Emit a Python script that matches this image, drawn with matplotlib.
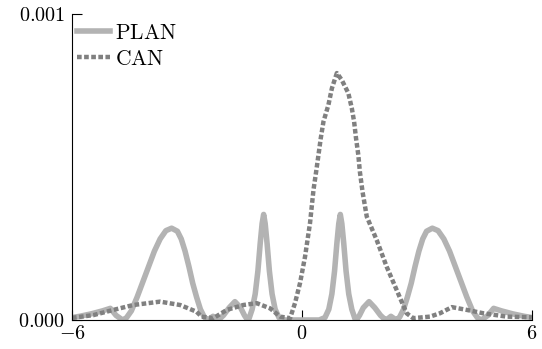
import matplotlib
matplotlib.use("Agg")
import numpy as np
import matplotlib.pyplot as plt

plt.rcParams["mathtext.fontset"] = "cm"

# PLAN curve (x, value)
plan_x = [-6.0, -5.8, -5.5, -5.2, -5.0, -4.85, -4.68, -4.58, -4.45, -4.3, -4.15, -4.0,
          -3.85, -3.7, -3.55, -3.4, -3.25, -3.15, -3.05, -2.95, -2.85, -2.75, -2.65, -2.55,
          -2.47, -2.4, -2.32, -2.25, -2.18, -2.05, -1.9, -1.75, -1.6, -1.5, -1.42, -1.38,
          -1.3, -1.22, -1.15, -1.09, -1.04, -1.0, -0.96, -0.91, -0.85, -0.78, -0.7, -0.6,
          -0.45, 0.0,
          0.45, 0.6, 0.7, 0.78, 0.85, 0.91, 0.96, 1.0, 1.04, 1.09, 1.15, 1.22, 1.3, 1.38,
          1.42, 1.5, 1.6, 1.75, 1.9, 2.05, 2.18, 2.25, 2.32, 2.4, 2.47, 2.55, 2.65, 2.75,
          2.85, 2.95, 3.05, 3.15, 3.25, 3.4, 3.55, 3.7, 3.85, 4.0, 4.15, 4.3, 4.45, 4.58,
          4.68, 4.85, 5.0, 5.2, 5.5, 5.8, 6.0]
plan_y = [0.08e-4, 0.12e-4, 0.2e-4, 0.3e-4, 0.38e-4, 0.15e-4, 0.0, 0.07e-4, 0.3e-4, 0.75e-4,
          1.25e-4, 1.75e-4, 2.25e-4, 2.65e-4, 2.92e-4, 3.0e-4, 2.9e-4, 2.65e-4, 2.25e-4,
          1.75e-4, 1.2e-4, 0.75e-4, 0.35e-4, 0.1e-4, 0.0, 0.05e-4, 0.12e-4, 0.05e-4, 0.0,
          0.15e-4, 0.4e-4, 0.6e-4, 0.4e-4, 0.15e-4, 0.0, 0.05e-4, 0.35e-4, 0.85e-4, 1.6e-4,
          2.5e-4, 3.15e-4, 3.45e-4, 3.15e-4, 2.5e-4, 1.6e-4, 0.85e-4, 0.35e-4, 0.08e-4,
          0.0, 0.0,
          0.0, 0.08e-4, 0.35e-4, 0.85e-4, 1.6e-4, 2.5e-4, 3.15e-4, 3.45e-4, 3.15e-4, 2.5e-4,
          1.6e-4, 0.85e-4, 0.35e-4, 0.05e-4, 0.0, 0.15e-4, 0.4e-4, 0.6e-4, 0.4e-4, 0.15e-4,
          0.0, 0.05e-4, 0.12e-4, 0.05e-4, 0.0, 0.1e-4, 0.35e-4, 0.75e-4, 1.2e-4, 1.75e-4,
          2.25e-4, 2.65e-4, 2.9e-4, 3.0e-4, 2.92e-4, 2.65e-4, 2.25e-4, 1.75e-4, 1.25e-4,
          0.75e-4, 0.3e-4, 0.07e-4, 0.0, 0.15e-4, 0.38e-4, 0.3e-4, 0.2e-4, 0.12e-4, 0.08e-4]

# CAN curve
can_x = [-6.0, -5.44, -4.92, -4.4, -3.7, -3.18, -2.75, -2.62, -2.31, -1.96, -1.53, -1.18,
         -0.83, -0.57, -0.31, -0.18, -0.05, 0.08, 0.21, 0.3, 0.37, 0.43, 0.49, 0.56, 0.69,
         0.78, 0.91, 1.04, 1.21, 1.3, 1.36, 1.41, 1.47, 1.51, 1.58, 1.69, 1.95, 2.21, 2.47,
         2.73, 2.9, 3.34, 3.6, 3.91, 4.3, 4.73, 5.34, 5.95, 6.0]
can_y = [0.07e-4, 0.16e-4, 0.33e-4, 0.49e-4, 0.6e-4, 0.49e-4, 0.27e-4, 0.11e-4, 0.06e-4,
         0.33e-4, 0.49e-4, 0.55e-4, 0.38e-4, 0.11e-4, 0.06e-4, 0.56e-4, 1.21e-4, 2.07e-4,
         3.17e-4, 4.25e-4, 4.85e-4, 5.39e-4, 5.94e-4, 6.48e-4, 7.03e-4, 7.57e-4, 8.07e-4,
         7.84e-4, 7.41e-4, 6.92e-4, 6.48e-4, 5.94e-4, 5.39e-4, 4.85e-4, 4.19e-4, 3.38e-4,
         2.61e-4, 1.74e-4, 0.98e-4, 0.22e-4, 0.06e-4, 0.11e-4, 0.22e-4, 0.42e-4, 0.33e-4,
         0.22e-4, 0.11e-4, 0.09e-4, 0.08e-4]

xticks = [-6, 0, 6]
xtick_labels = [r"$-6$", r"$0$", r"$6$"]
yticks = [0.0, 0.001]
ytick_labels = [r"$0.000$", r"$0.001$"]

fig = plt.figure(figsize=(5.42, 3.49), dpi=100)
ax = fig.add_axes([0.1328, 0.0831, 0.8487, 0.8768])

ax.plot(plan_x, plan_y, color="#b3b3b3", lw=4.0, solid_joinstyle="round",
        label=r"$\mathrm{PLAN}$")
ax.plot(can_x, can_y, color="#808080", lw=3.2, linestyle=(0, (1.05, 0.55)),
        label=r"$\mathrm{CAN}$")

ax.set_xlim(-6, 6)
ax.set_ylim(0, 0.001)
ax.spines["top"].set_visible(False)
ax.spines["right"].set_visible(False)
for s in ("left", "bottom"):
    ax.spines[s].set_linewidth(0.8)
    ax.spines[s].set_zorder(5)

ax.set_xticks(xticks, xtick_labels)
ax.set_yticks(yticks, ytick_labels)
ax.tick_params(direction="in", length=7, width=0.8, labelsize=14.5)
ax.tick_params(axis="x", pad=3)
ax.tick_params(axis="y", pad=5)

ax.legend(loc="upper left", bbox_to_anchor=(0.012, 0.972), frameon=False,
          fontsize=15.5, handlelength=1.5, handletextpad=0.25,
          borderpad=0, labelspacing=0.3, borderaxespad=0)

fig.savefig("out.png", dpi=100)
